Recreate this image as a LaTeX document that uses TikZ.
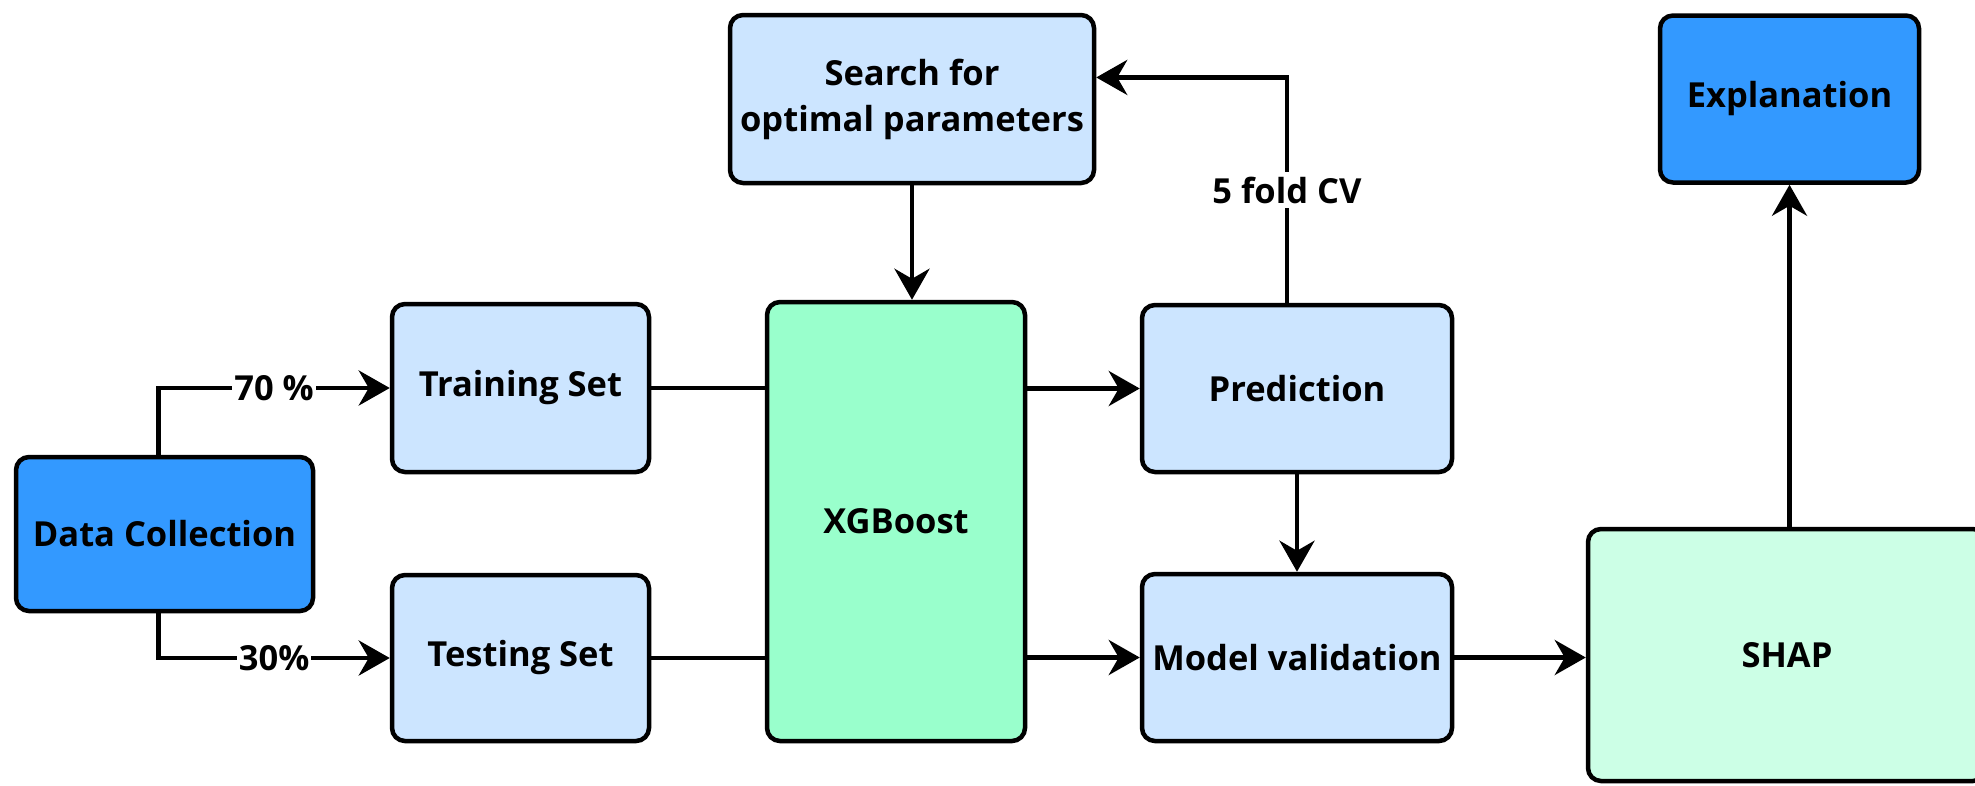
\documentclass[tikz,border=0pt]{standalone}
\usepackage{fontspec}
\setmainfont{Open Sans}
\usetikzlibrary{arrows.meta,calc}
\definecolor{darkblue}{HTML}{3399FF}
\definecolor{lightblue}{HTML}{CCE5FF}
\definecolor{midgreen}{HTML}{99FFCC}
\definecolor{lightgreen}{HTML}{CCFFE6}
\tikzset{
  box/.style={draw=black, line width=4.5pt, rounded corners=13pt, inner sep=0pt, align=center,
    font=\fontsize{34.5}{46}\selectfont\bfseries},
  conn/.style={line width=4.5pt, -{Stealth[length=31pt,width=35pt,inset=10pt]}},
  plain/.style={line width=4.5pt},
  lbl/.style={fill=white, inner sep=2pt, font=\fontsize{34.5}{40}\selectfont\bfseries}
}
\begin{document}
\begin{tikzpicture}[x=1pt,y=-1pt]
\useasboundingbox (0,0) rectangle (1975,785);
\clip (0,0) rectangle (1975,785);
\fill[white] (0,0) rectangle (1975,785);
\node[box, fill=darkblue, minimum width=297pt, minimum height=154pt] (dc) at (164.5,534) {Data Collection};
\node[box, fill=lightblue, minimum width=257pt, minimum height=168pt] (train) at (520.5,388) {Training Set};
\node[box, fill=lightblue, minimum width=257pt, minimum height=166pt] (test) at (520.5,658) {Testing Set};
\node[box, fill=lightblue, minimum width=364pt, minimum height=168pt] (search) at (912,99) {Search for\\optimal parameters};
\node[box, fill=midgreen, minimum width=258pt, minimum height=439pt] (xgb) at (896,521.5) {XGBoost};
\node[box, fill=lightblue, minimum width=310pt, minimum height=167pt] (pred) at (1297,388.5) {Prediction};
\node[box, fill=lightblue, minimum width=310pt, minimum height=167pt] (mv) at (1297,657.5) {Model validation};
\node[box, fill=darkblue, minimum width=259pt, minimum height=167pt] (expl) at (1789.5,99) {Explanation};
\node[box, fill=lightgreen, minimum width=398pt, minimum height=252pt] (shap) at (1787,655) {SHAP};

\draw[conn] ($(dc.north)+(-6,0)$) |- node[lbl, pos=0.75] {70 \%} (train.west);
\draw[conn] ($(dc.south)+(-6,0)$) |- node[lbl, pos=0.75] {30\%} (test.west);
\draw[plain] (train.east) -- (train.east -| xgb.west);
\draw[plain] (test.east) -- (test.east -| xgb.west);
\draw[conn] (pred.west -| xgb.east) -- (pred.west);
\draw[conn] (mv.west -| xgb.east) -- (mv.west);
\draw[conn] (search.south) -- (search.south |- xgb.north);
\coordinate (fb) at ($(search.north east)!0.375!(search.south east)$);
\coordinate (ps) at ($(pred.north)+(-10,0)$);
\draw[conn] (ps) -- node[lbl, pos=0.5, inner sep=5pt] {5 fold CV} (ps |- fb) -- (fb);
\draw[conn] (pred.south) -- (mv.north);
\draw[conn] (mv.east) -- (mv.east -| shap.west);
\draw[conn] (expl.south |- shap.north) -- (expl.south);
\end{tikzpicture}
\end{document}
